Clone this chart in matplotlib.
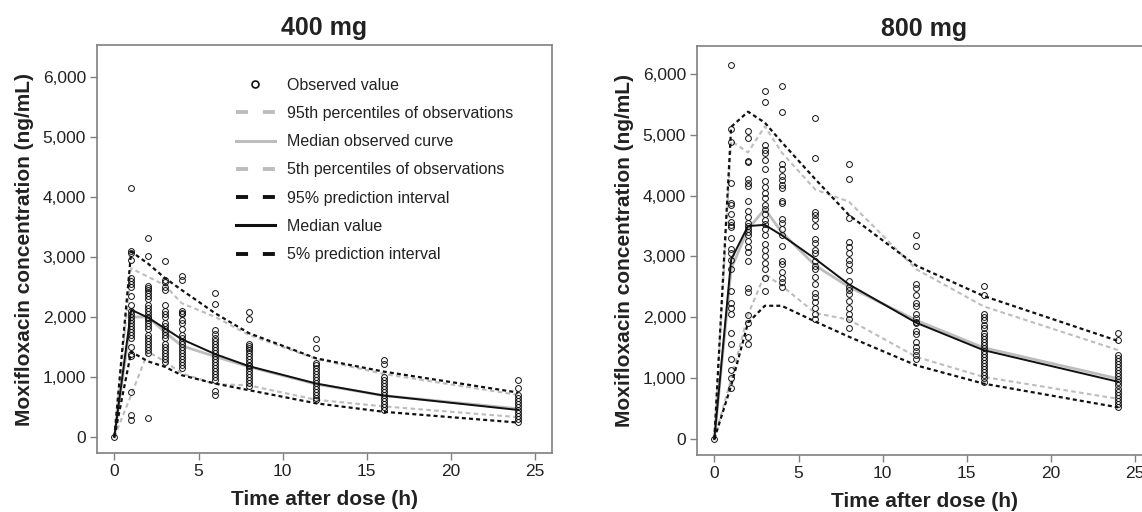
import matplotlib
matplotlib.use("Agg")
import matplotlib.pyplot as plt
from matplotlib.lines import Line2D
from matplotlib.ticker import FuncFormatter, FixedLocator
import numpy as np

plt.rcParams['font.family'] = ['Liberation Sans', 'DejaVu Sans']

times = [0, 1, 2, 3, 4, 6, 8, 12, 16, 24]

# ---------------- 400 mg ----------------
obs_400 = {
    0: [0],
    1: [4150, 3100, 3060, 2950, 2650, 2600, 2550, 2500, 2350, 2200, 2100, 2050, 2000, 1950, 1900,
        1850, 1800, 1750, 1700, 1650, 1500, 1380, 1350, 750, 370, 280],
    2: [3320, 3020, 2520, 2480, 2450, 2400, 2350, 2300, 2200, 2150, 2100, 2050, 2000, 1980, 1950,
        1900, 1850, 1800, 1700, 1650, 1600, 1550, 1500, 1450, 1400, 310],
    3: [2930, 2620, 2580, 2500, 2450, 2200, 2100, 2050, 2000, 1900, 1850, 1800, 1750, 1700, 1650,
        1550, 1500, 1450, 1400, 1350, 1300, 1250],
    4: [2680, 2620, 2100, 2070, 2050, 1950, 1900, 1800, 1700, 1650, 1600, 1550, 1500, 1450, 1400,
        1350, 1300, 1250, 1200, 1150],
    6: [2400, 2220, 1780, 1720, 1650, 1600, 1550, 1500, 1450, 1400, 1350, 1300, 1250, 1200, 1150,
        1100, 1050, 1000, 950, 760, 700],
    8: [2090, 1960, 1550, 1520, 1480, 1450, 1400, 1350, 1300, 1250, 1200, 1180, 1150, 1100, 1050,
        1000, 950, 900, 850],
    12: [1640, 1480, 1230, 1200, 1150, 1100, 1050, 1000, 950, 900, 850, 800, 750, 700, 650, 620],
    16: [1280, 1220, 1000, 950, 900, 850, 800, 750, 700, 650, 600, 550, 500, 450],
    24: [950, 810, 700, 650, 600, 550, 500, 450, 400, 350, 300, 250],
}
obs95_400 = [0, 2810, 2670, 2530, 2230, 2000, 1700, 1300, 1050, 700]
obsmed_400 = [0, 2000, 2000, 1750, 1520, 1340, 1170, 880, 690, 470]
obs05_400 = [0, 700, 1420, 1260, 1060, 880, 860, 620, 510, 330]
pi95_400 = [0, 3090, 2890, 2650, 2450, 2060, 1730, 1310, 1090, 740]
predmed_400 = [0, 2120, 1990, 1810, 1630, 1380, 1180, 890, 690, 450]
pi05_400 = [0, 1420, 1260, 1170, 1030, 890, 780, 560, 420, 240]

# ---------------- 800 mg ----------------
obs_800 = {
    0: [0],
    1: [6140, 5090, 4880, 4210, 3880, 3850, 3700, 3570, 3520, 3480, 3300, 3130, 3050, 2950, 2800,
        2430, 2230, 2150, 2050, 1740, 1560, 1320, 1140, 1010, 840],
    2: [5060, 4940, 4570, 4550, 4270, 4200, 4160, 3920, 3740, 3650, 3550, 3500, 3460, 3400, 3350,
        3250, 3150, 3080, 2930, 2480, 2420, 2040, 1910, 1680, 1560],
    3: [5720, 5540, 4840, 4750, 4700, 4580, 4440, 4240, 4150, 4050, 3960, 3850, 3780, 3700, 3600,
        3540, 3450, 3350, 3200, 3100, 3000, 2900, 2790, 2650, 2430],
    4: [5810, 5370, 4520, 4430, 4320, 4250, 4180, 4130, 3920, 3880, 3620, 3550, 3460, 3350, 3170,
        2930, 2880, 2740, 2650, 2580, 2500],
    6: [5270, 4620, 3730, 3680, 3620, 3500, 3280, 3220, 3100, 3050, 2930, 2850, 2800, 2660, 2550,
        2400, 2330, 2250, 2150, 2050, 1970],
    8: [4520, 4270, 3630, 3240, 3160, 3050, 2950, 2880, 2770, 2600, 2500, 2450, 2380, 2270, 2160,
        2050, 1970, 1820],
    12: [3360, 3180, 2540, 2490, 2370, 2240, 2180, 2050, 1990, 1930, 1900, 1770, 1720, 1600, 1520,
         1450, 1380, 1320],
    16: [2510, 2370, 2060, 2000, 1950, 1880, 1820, 1750, 1700, 1650, 1600, 1550, 1500, 1450, 1400,
         1350, 1300, 1250, 1200, 1150, 1100, 1050, 1000, 940],
    24: [1740, 1620, 1380, 1330, 1280, 1230, 1180, 1130, 1080, 1030, 980, 930, 880, 830, 780, 730,
         680, 630, 580, 520],
}
obs95_800 = [0, 4900, 4710, 5140, 4710, 4100, 3900, 2790, 2180, 1460]
obsmed_800 = [0, 2800, 3450, 3780, 3400, 2850, 2500, 1950, 1500, 990]
obs05_800 = [0, 990, 2040, 2710, 2520, 2070, 1960, 1350, 1020, 660]
pi95_800 = [0, 5130, 5380, 5200, 4880, 4270, 3680, 2850, 2350, 1610]
predmed_800 = [0, 2950, 3500, 3520, 3350, 2960, 2540, 1910, 1460, 940]
pi05_800 = [0, 880, 1910, 2190, 2190, 1930, 1680, 1210, 910, 520]

titles = ["400 mg", "800 mg"]
legend_labels = ["Observed value", "95th percentiles of observations", "Median observed curve",
                 "5th percentiles of observations", "95% prediction interval", "Median value",
                 "5% prediction interval"]

GRAY = '#bdbdbd'
SPINE = '#808080'
TXT = '#222222'

fig = plt.figure(figsize=(11.42, 5.12), dpi=100)
W, H = 1142, 512
ax1 = fig.add_axes([97 / W, (H - 453) / H, 455 / W, 408 / H])
ax2 = fig.add_axes([697 / W, (H - 455) / H, 455 / W, 409 / H])


def draw(ax, obs, o95, omed, o05, p95, pmed, p05, title, ylim):
    for t in times:
        v = obs[t]
        ax.plot([t] * len(v), v, linestyle='none', marker='o', markersize=4.2,
                markerfacecolor='none', markeredgecolor='#111111', markeredgewidth=0.7, zorder=5)
    ax.plot(times, o95, color=GRAY, lw=1.5, linestyle=(0, (2.2, 1.6)), zorder=2)
    ax.plot(times, o05, color=GRAY, lw=1.5, linestyle=(0, (2.2, 1.6)), zorder=2)
    ax.plot(times, omed, color=GRAY, lw=2.0, zorder=3)
    ax.plot(times, p95, color='#111111', lw=1.6, linestyle=(0, (1.8, 1.4)), zorder=4)
    ax.plot(times, p05, color='#111111', lw=1.6, linestyle=(0, (1.8, 1.4)), zorder=4)
    ax.plot(times, pmed, color='#111111', lw=1.4, zorder=4)

    ax.set_xlim(-1.03, 26.0)
    ax.set_ylim(*ylim)
    ax.xaxis.set_major_locator(FixedLocator([0, 5, 10, 15, 20, 25]))
    ax.yaxis.set_major_locator(FixedLocator([0, 1000, 2000, 3000, 4000, 5000, 6000]))
    ax.yaxis.set_major_formatter(FuncFormatter(lambda v, p: f"{int(v):,}"))
    for s in ax.spines.values():
        s.set_color(SPINE)
        s.set_linewidth(1.2)
    ax.tick_params(axis='both', direction='out', length=5, width=1.0, color=SPINE,
                   labelsize=12.5, labelcolor=TXT, pad=3)
    ax.set_title(title, fontsize=18, fontweight='bold', color=TXT, pad=7)
    ax.set_xlabel("Time after dose (h)", fontsize=15, fontweight='bold', color=TXT, labelpad=8)
    ax.set_ylabel("Moxifloxacin concentration (ng/mL)", fontsize=15, fontweight='bold',
                  color=TXT, labelpad=6)


draw(ax1, obs_400, obs95_400, obsmed_400, obs05_400, pi95_400, predmed_400, pi05_400,
     titles[0], (-267, 6533))
draw(ax2, obs_800, obs95_800, obsmed_800, obs05_800, pi95_800, predmed_800, pi05_800,
     titles[1], (-263, 6460))

handles = [
    Line2D([], [], linestyle='none', marker='o', markersize=5, markerfacecolor='none',
           markeredgecolor='#111111', markeredgewidth=1.2),
    Line2D([], [], color=GRAY, lw=2.8, linestyle=(0, (3.1, 3.8))),
    Line2D([], [], color=GRAY, lw=2.2),
    Line2D([], [], color=GRAY, lw=2.8, linestyle=(0, (3.1, 3.8))),
    Line2D([], [], color='#111111', lw=2.8, linestyle=(0, (3.1, 3.8))),
    Line2D([], [], color='#111111', lw=2.2),
    Line2D([], [], color='#111111', lw=2.8, linestyle=(0, (3.1, 3.8))),
]
leg = ax1.legend(handles, legend_labels, loc='upper left', bbox_to_anchor=(0.306, 0.920),
                 frameon=False, fontsize=11.5, borderpad=0, borderaxespad=0,
                 handlelength=2.4, handletextpad=0.8, labelspacing=0.83, numpoints=1)
for t in leg.get_texts():
    t.set_color(TXT)

fig.savefig("out.png", dpi=100)
